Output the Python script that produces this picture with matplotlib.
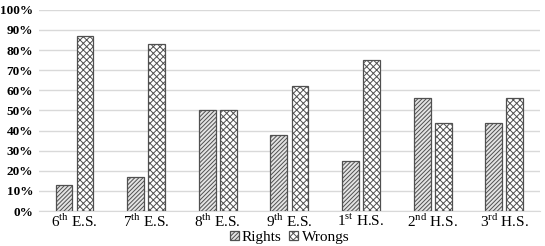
import numpy as np
import matplotlib.pyplot as plt

plt.rcParams['font.family'] = ['Liberation Serif', 'DejaVu Serif']
plt.rcParams['mathtext.fontset'] = 'custom'
plt.rcParams['mathtext.rm'] = 'Liberation Serif'
plt.rcParams['hatch.linewidth'] = 0.7
plt.rcParams['hatch.color'] = '#555555'

grades = ['6$^{\\mathrm{th}}$ E.S.', '7$^{\\mathrm{th}}$ E.S.', '8$^{\\mathrm{th}}$ E.S.',
          '9$^{\\mathrm{th}}$ E.S.', '1$^{\\mathrm{st}}$ H.S.', '2$^{\\mathrm{nd}}$ H.S.',
          '3$^{\\mathrm{rd}}$ H.S.']
rights = [13, 17, 50, 38, 25, 56, 44]
wrongs = [87, 83, 50, 62, 75, 44, 56]
yticks = [0, 10, 20, 30, 40, 50, 60, 70, 80, 90, 100]

fig = plt.figure(figsize=(5.45, 2.46), dpi=100)
ax = fig.add_axes([0.071, 0.142, 0.92, 0.818])

x = np.arange(len(grades))
w = 0.235
ax.bar(x - w / 2 - 0.03, rights, w, color='#e4e4e4', edgecolor='#505050',
       hatch='////////', linewidth=0.9, label='Rights', zorder=3)
ax.bar(x + w / 2 + 0.03, wrongs, w, color='white', edgecolor='#505050',
       hatch='xxxxx', linewidth=0.9, label='Wrongs', zorder=3)

ax.set_ylim(0, 100)
ax.set_xlim(-0.5, len(grades) - 0.5)
ax.set_yticks(yticks)
ax.set_yticklabels([f'{v}%' for v in yticks], fontsize=9.5, fontweight='bold')
ax.set_xticks(x)
ax.set_xticklabels(grades, fontsize=11)
ax.tick_params(axis='y', length=0, pad=4)
ax.tick_params(axis='x', length=0, pad=1)
ax.yaxis.grid(True, color='#d9d9d9', linewidth=1, zorder=0)
for s in ['top', 'right', 'left']:
    ax.spines[s].set_visible(False)
ax.spines['bottom'].set_color('#d9d9d9')

ax.legend(loc='upper center', bbox_to_anchor=(0.5, -0.06), ncol=2, frameon=False,
          fontsize=11, handlelength=0.6, handleheight=0.6, handletextpad=0.2,
          columnspacing=0.5, borderpad=0)

fig.savefig('out.png', dpi=100)
